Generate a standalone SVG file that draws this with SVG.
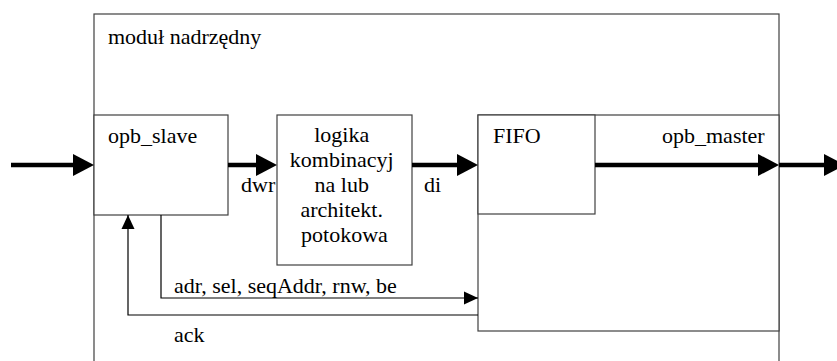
<svg xmlns="http://www.w3.org/2000/svg" width="837" height="361" viewBox="0 0 837 361">
  <style>
    .box { fill: #ffffff; stroke: #404040; stroke-width: 1.2; }
    .lbl { font-family: "Liberation Serif", "Times New Roman", serif; font-size: 22px; fill: #000000; }
    .thick { stroke: #000000; stroke-width: 4.5; fill: none; }
    .thin { stroke: #000000; stroke-width: 1.2; fill: none; }
  </style>
  <defs>
    <marker id="ahBig" markerUnits="userSpaceOnUse" markerWidth="22" markerHeight="24" refX="13" refY="12" orient="auto">
      <path d="M0,1 L21,12 L0,23 z" fill="#000000"/>
    </marker>
    <marker id="ahSmall" markerUnits="userSpaceOnUse" markerWidth="15" markerHeight="14" refX="14" refY="7" orient="auto">
      <path d="M0,0.5 L14,7 L0,13.5 z" fill="#000000"/>
    </marker>
  </defs>

  <g id="modul_nadrzedny">
    <rect class="box" x="94" y="14" width="685" height="360"/>
    <text class="lbl" x="108" y="44">moduł nadrzędny</text>
  </g>

  <g id="opb_slave">
    <rect class="box" x="94" y="115" width="134" height="100"/>
    <text class="lbl" x="108" y="143">opb_slave</text>
  </g>

  <g id="logika">
    <rect class="box" x="277" y="115" width="135" height="150"/>
    <text class="lbl" text-anchor="middle">
      <tspan x="344.5" y="142">logika</tspan>
      <tspan x="344.5" y="167">kombinacyj</tspan>
      <tspan x="344.5" y="192">na lub</tspan>
      <tspan x="344.5" y="217">architekt.</tspan>
      <tspan x="344.5" y="242">potokowa</tspan>
    </text>
  </g>

  <g id="opb_master">
    <rect class="box" x="478" y="115" width="301" height="216"/>
    <text class="lbl" x="662" y="143">opb_master</text>
  </g>

  <g id="fifo">
    <rect class="box" x="478" y="115" width="117" height="99"/>
    <text class="lbl" x="493" y="143">FIFO</text>
  </g>

  <g id="connectors">
    <line class="thick" x1="11" y1="165" x2="86" y2="165" marker-end="url(#ahBig)"/>
    <line class="thick" x1="228" y1="165" x2="269" y2="165" marker-end="url(#ahBig)"/>
    <line class="thick" x1="412" y1="165" x2="470" y2="165" marker-end="url(#ahBig)"/>
    <line class="thick" x1="595" y1="165" x2="771" y2="165" marker-end="url(#ahBig)"/>
    <line class="thick" x1="779" y1="165" x2="837" y2="165" marker-end="url(#ahBig)"/>
    <polyline class="thin" points="161,215 161,298 478,298" marker-end="url(#ahSmall)"/>
    <polyline class="thin" points="478,315 128,315 128,215" marker-end="url(#ahSmall)"/>
    <text class="lbl" x="241" y="192">dwr</text>
    <text class="lbl" x="424" y="192">di</text>
    <text class="lbl" x="174" y="293">adr, sel, seqAddr, rnw, be</text>
    <text class="lbl" x="174" y="342">ack</text>
  </g>
</svg>
